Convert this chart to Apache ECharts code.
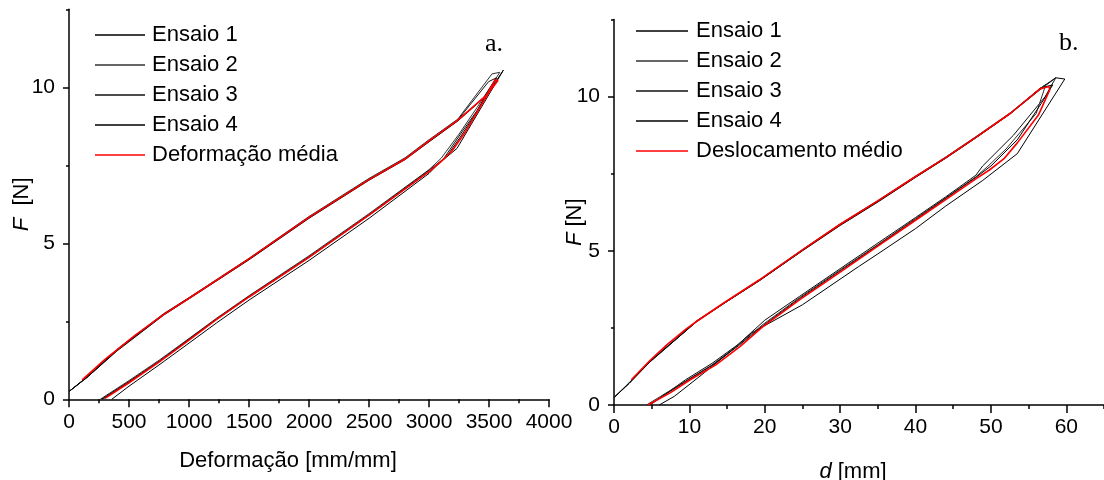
<!DOCTYPE html>
<html>
<head>
<meta charset="utf-8">
<script src="https://cdn.jsdelivr.net/npm/echarts@6/dist/echarts.min.js"></script>
<style>
  html, body { margin: 0; padding: 0; background: #fff; }
  #chart { width: 1104px; height: 480px; }
</style>
</head>
<body>
<div id="chart"></div>
<script>
// a. deformação [mm/mm] vs F [N]
const defEnsaio1 = [[0,0.25],[150,0.7],[400,1.55],[790,2.7],[1000,3.22],[1500,4.47],[2000,5.8],[2500,7.02],[2800,7.68],[3000,8.25],[3240,8.92],[3480,9.74],[3620,10.55],
  [3233,8.04],[3080,7.55],[3000,7.24],[2500,5.8],[2000,4.45],[1500,3.18],[1230,2.45],[1000,1.8],[750,1.1],[500,0.42],[356,0]];
const defEnsaio2 = [[0,0.25],[150,0.72],[400,1.6],[790,2.75],[1000,3.26],[1500,4.52],[2000,5.86],[2500,7.08],[2800,7.74],[3000,8.32],[3240,8.98],[3525,10.43],[3590,10.48],
  [3400,9.35],[3250,8.5],[3100,7.72],[3000,7.36],[2500,5.95],[2000,4.6],[1500,3.32],[1230,2.6],[1000,1.95],[750,1.25],[500,0.6],[260,0]];
const defEnsaio3 = [[0,0.25],[150,0.7],[400,1.57],[790,2.72],[1000,3.24],[1500,4.5],[2000,5.83],[2500,7.05],[2800,7.71],[3000,8.28],[3240,8.95],[3496,10.18],[3560,10.3],
  [3520,10.0],[3400,9.25],[3280,8.6],[3120,7.7],[3000,7.34],[2500,5.92],[2000,4.57],[1500,3.3],[1230,2.58],[1000,1.93],[750,1.22],[500,0.57],[270,0]];
const defEnsaio4 = [[0,0.25],[150,0.71],[400,1.58],[790,2.73],[1000,3.25],[1500,4.49],[2000,5.82],[2500,7.04],[2800,7.7],[3000,8.27],[3240,8.94],[3480,9.76],[3560,10.28],
  [3480,9.8],[3380,9.1],[3260,8.4],[3150,7.8],[3000,7.3],[2500,5.9],[2000,4.55],[1500,3.28],[1230,2.56],[1000,1.91],[750,1.2],[500,0.55],[280,0]];
const defMedia = [[110,0.62],[300,1.28],[550,2.05],[790,2.72],[1000,3.24],[1500,4.5],[2000,5.83],[2500,7.04],[2800,7.7],[3000,8.28],[3240,8.95],[3480,9.75],[3550,10.24],[3575,10.22],
  [3500,9.85],[3400,9.2],[3300,8.55],[3190,7.95],[3100,7.62],[3000,7.3],[2500,5.9],[2000,4.55],[1500,3.28],[1230,2.56],[1000,1.9],[750,1.19],[500,0.53],[300,0.03]];

// b. deslocamento d [mm] vs F [N]
const desEnsaio1 = [[0,0.24],[2,0.7],[4.8,1.4],[8,2.08],[11,2.72],[14.5,3.28],[19.3,4.03],[25,5.0],[30,5.82],[35,6.58],[40,7.38],[44,8.0],[48,8.66],[52.6,9.45],[56.5,10.22],[58.6,10.61],[59.8,10.57],
  [53.5,8.15],[48.9,7.28],[44,6.45],[40,5.72],[35,4.9],[32.4,4.48],[25,3.25],[18.2,2.33],[15,1.65],[12,1.05],[8,0.28],[6.0,0]];
const desEnsaio2 = [[0,0.24],[2,0.72],[4.8,1.43],[8,2.1],[11,2.74],[14.5,3.3],[19.3,4.06],[25,5.04],[30,5.87],[35,6.63],[40,7.42],[44,8.04],[48,8.7],[52.6,9.48],[56.5,10.26],[58.6,10.61],
  [57.2,10.0],[53,8.75],[48.9,7.75],[48,7.45],[44,6.75],[40,6.08],[35,5.25],[30,4.42],[24.6,3.52],[20,2.75],[16.5,1.97],[13,1.35],[9.5,0.82],[4.8,0]];
const desEnsaio3 = [[0,0.24],[2,0.71],[4.8,1.42],[8,2.09],[11,2.72],[14.5,3.29],[19.3,4.05],[25,5.02],[30,5.85],[35,6.6],[40,7.4],[44,8.02],[48,8.68],[52.6,9.46],[56.2,10.2],[57.3,10.4],
  [56,9.45],[52,8.3],[49.5,7.72],[48,7.4],[44,6.72],[40,6.05],[35,5.2],[30,4.38],[24.6,3.48],[19.8,2.62],[16.5,1.95],[13,1.3],[9.5,0.78],[4.3,0]];
const desEnsaio4 = [[0,0.24],[2,0.7],[4.8,1.41],[8,2.08],[11,2.71],[14.5,3.28],[19.3,4.04],[25,5.01],[30,5.84],[35,6.6],[40,7.39],[44,8.01],[48,8.67],[52.6,9.45],[56.6,10.28],[58.2,10.38],
  [57,9.9],[53.5,8.6],[50,7.75],[48,7.38],[44,6.7],[40,6.02],[35,5.18],[30,4.35],[24.6,3.45],[19.8,2.58],[16.5,1.92],[13,1.28],[9.5,0.76],[4.6,0]];
const desMedia = [[2.3,0.82],[4.8,1.45],[7,1.95],[9.5,2.45],[10.9,2.7],[14.5,3.3],[19.3,4.06],[25,5.03],[30,5.86],[35,6.62],[40,7.41],[44,8.02],[48,8.68],[52.6,9.46],[56.5,10.25],[57.7,10.33],
  [57.8,10.22],[56.3,9.4],[53.5,8.5],[51.7,7.98],[49.8,7.62],[48,7.33],[44,6.66],[40,5.99],[35,5.15],[30,4.31],[24.6,3.41],[19.75,2.54],[16.7,1.89],[13.5,1.3],[10.05,0.81],[7.5,0.4],[4.5,0]];

const ensaioNames = ['Ensaio 1', 'Ensaio 2', 'Ensaio 3', 'Ensaio 4'];
const fontSans = 'Liberation Sans, Arial, sans-serif';

function lineSeries(name, data, idx, color, width) {
  return {
    name: name,
    type: 'line',
    xAxisIndex: idx,
    yAxisIndex: idx,
    data: data,
    symbol: 'none',
    smooth: false,
    animation: false,
    lineStyle: {color: color, width: width},
    itemStyle: {color: color}
  };
}

const axisLineStyle = {show: true, onZero: false, lineStyle: {color: '#000', width: 1.5}};
const labelStyle = {color: '#000', fontSize: 21, fontFamily: fontSans, formatter: v => String(v)};
const legendText = {fontSize: 22, lineHeight: 22, fontFamily: fontSans, color: '#000'};

const chart = echarts.init(document.getElementById('chart'), null, {renderer: 'canvas'});

const option = {
  backgroundColor: '#fff',
  animation: false,
  title: [
    {text: 'a.', left: 480, top: 26, textStyle: {fontFamily: 'Liberation Serif, serif', fontSize: 26, fontWeight: 'normal', color: '#000'}},
    {text: 'b.', left: 1054, top: 25, textStyle: {fontFamily: 'Liberation Serif, serif', fontSize: 26, fontWeight: 'normal', color: '#000'}}
  ],
  grid: [
    {left: 69, right: 555, top: 9.3, bottom: 80.7, outerBoundsMode: 'none'},
    {left: 614, right: 0, top: 19.5, bottom: 75, outerBoundsMode: 'none'}
  ],
  legend: [
    {
      data: ensaioNames.concat(['Deformação média']),
      orient: 'vertical', left: 95, top: 24, padding: 0,
      icon: 'rect', itemWidth: 50, itemHeight: 1.5, itemGap: 8,
      textStyle: Object.assign({padding: [0, 0, 0, 2]}, legendText)
    },
    {
      data: ensaioNames.concat(['Deslocamento médio']),
      orient: 'vertical', left: 636, top: 20, padding: 0,
      icon: 'rect', itemWidth: 52, itemHeight: 1.5, itemGap: 8,
      textStyle: Object.assign({padding: [0, 0, 0, 3]}, legendText)
    }
  ],
  xAxis: [
    {
      gridIndex: 0, type: 'value', min: 0, max: 4000, interval: 500,
      name: 'Deformação [mm/mm]', nameLocation: 'middle', nameGap: 51,
      nameTextStyle: {fontSize: 22, fontFamily: fontSans, color: '#000', padding: [0, 42, 0, 0]},
      axisLine: axisLineStyle,
      axisTick: {show: true, length: 8, lineStyle: {color: '#000', width: 1.5}},
      minorTick: {show: true, splitNumber: 2, length: 4, lineStyle: {color: '#000', width: 1.5}},
      axisLabel: Object.assign({margin: 12}, labelStyle),
      splitLine: {show: false}
    },
    {
      gridIndex: 1, type: 'value', min: 0, max: 65, interval: 10,
      name: '{i|d} [mm]', nameLocation: 'middle', nameGap: 56,
      nameTextStyle: {fontSize: 22, fontFamily: fontSans, color: '#000', padding: [0, 12, 0, 0],
        rich: {i: {fontStyle: 'italic', fontSize: 22, fontFamily: fontSans, color: '#000'}}},
      axisLine: axisLineStyle,
      axisTick: {show: true, length: 8, customValues: [0, 10, 20, 30, 40, 50, 60], lineStyle: {color: '#000', width: 1.5}},
      axisLabel: Object.assign({margin: 12, customValues: [0, 10, 20, 30, 40, 50, 60]}, labelStyle),
      splitLine: {show: false}
    },
    {
      gridIndex: 1, type: 'value', min: 0, max: 65, interval: 5, position: 'bottom',
      axisLine: {show: false, onZero: false},
      axisTick: {show: true, length: 4, lineStyle: {color: '#000', width: 1.5}},
      axisLabel: {show: false},
      splitLine: {show: false}
    }
  ],
  yAxis: [
    {
      gridIndex: 0, type: 'value', min: 0, max: 12.5, interval: 5,
      name: '{i|F}  [N]', nameLocation: 'middle', nameGap: 36, nameRotate: 90, nameMoveOverlap: false,
      nameTextStyle: {fontSize: 22, fontFamily: fontSans, color: '#000',
        rich: {i: {fontStyle: 'italic', fontSize: 22, fontFamily: fontSans, color: '#000'}}},
      axisLine: axisLineStyle,
      axisTick: {show: true, length: 6, customValues: [0, 5, 10], lineStyle: {color: '#000', width: 1.5}},
      axisLabel: Object.assign({margin: 14, customValues: [0, 5, 10]}, labelStyle),
      splitLine: {show: false}
    },
    {
      gridIndex: 1, type: 'value', min: 0, max: 12.5, interval: 5,
      name: '{i|F} [N]', nameLocation: 'middle', nameGap: 28, nameRotate: 90, nameMoveOverlap: false,
      nameTextStyle: {fontSize: 22, fontFamily: fontSans, color: '#000', padding: [0, 20, 0, 0],
        rich: {i: {fontStyle: 'italic', fontSize: 22, fontFamily: fontSans, color: '#000'}}},
      axisLine: axisLineStyle,
      axisTick: {show: true, length: 6, customValues: [0, 5, 10], lineStyle: {color: '#000', width: 1.5}},
      axisLabel: Object.assign({margin: 14, customValues: [0, 5, 10]}, labelStyle),
      splitLine: {show: false}
    },
    {
      gridIndex: 0, type: 'value', min: 0, max: 12.5, interval: 2.5, position: 'left',
      axisLine: {show: false, onZero: false},
      axisTick: {show: true, length: 3, lineStyle: {color: '#000', width: 1.5}},
      axisLabel: {show: false},
      splitLine: {show: false}
    },
    {
      gridIndex: 1, type: 'value', min: 0, max: 12.5, interval: 2.5, position: 'left',
      axisLine: {show: false, onZero: false},
      axisTick: {show: true, length: 3, lineStyle: {color: '#000', width: 1.5}},
      axisLabel: {show: false},
      splitLine: {show: false}
    }
  ],
  series: [
    lineSeries('Ensaio 1', defEnsaio1, 0, '#000', 1),
    lineSeries('Ensaio 2', defEnsaio2, 0, '#333', 1),
    lineSeries('Ensaio 3', defEnsaio3, 0, '#111', 1),
    lineSeries('Ensaio 4', defEnsaio4, 0, '#000', 1),
    lineSeries('Deformação média', defMedia, 0, '#ff0000', 1.6),
    lineSeries('Ensaio 1', desEnsaio1, 1, '#000', 1),
    lineSeries('Ensaio 2', desEnsaio2, 1, '#111', 1),
    lineSeries('Ensaio 3', desEnsaio3, 1, '#333', 1),
    lineSeries('Ensaio 4', desEnsaio4, 1, '#000', 1),
    lineSeries('Deslocamento médio', desMedia, 1, '#ff0000', 1.6)
  ]
};

chart.setOption(option);
</script>
</body>
</html>
